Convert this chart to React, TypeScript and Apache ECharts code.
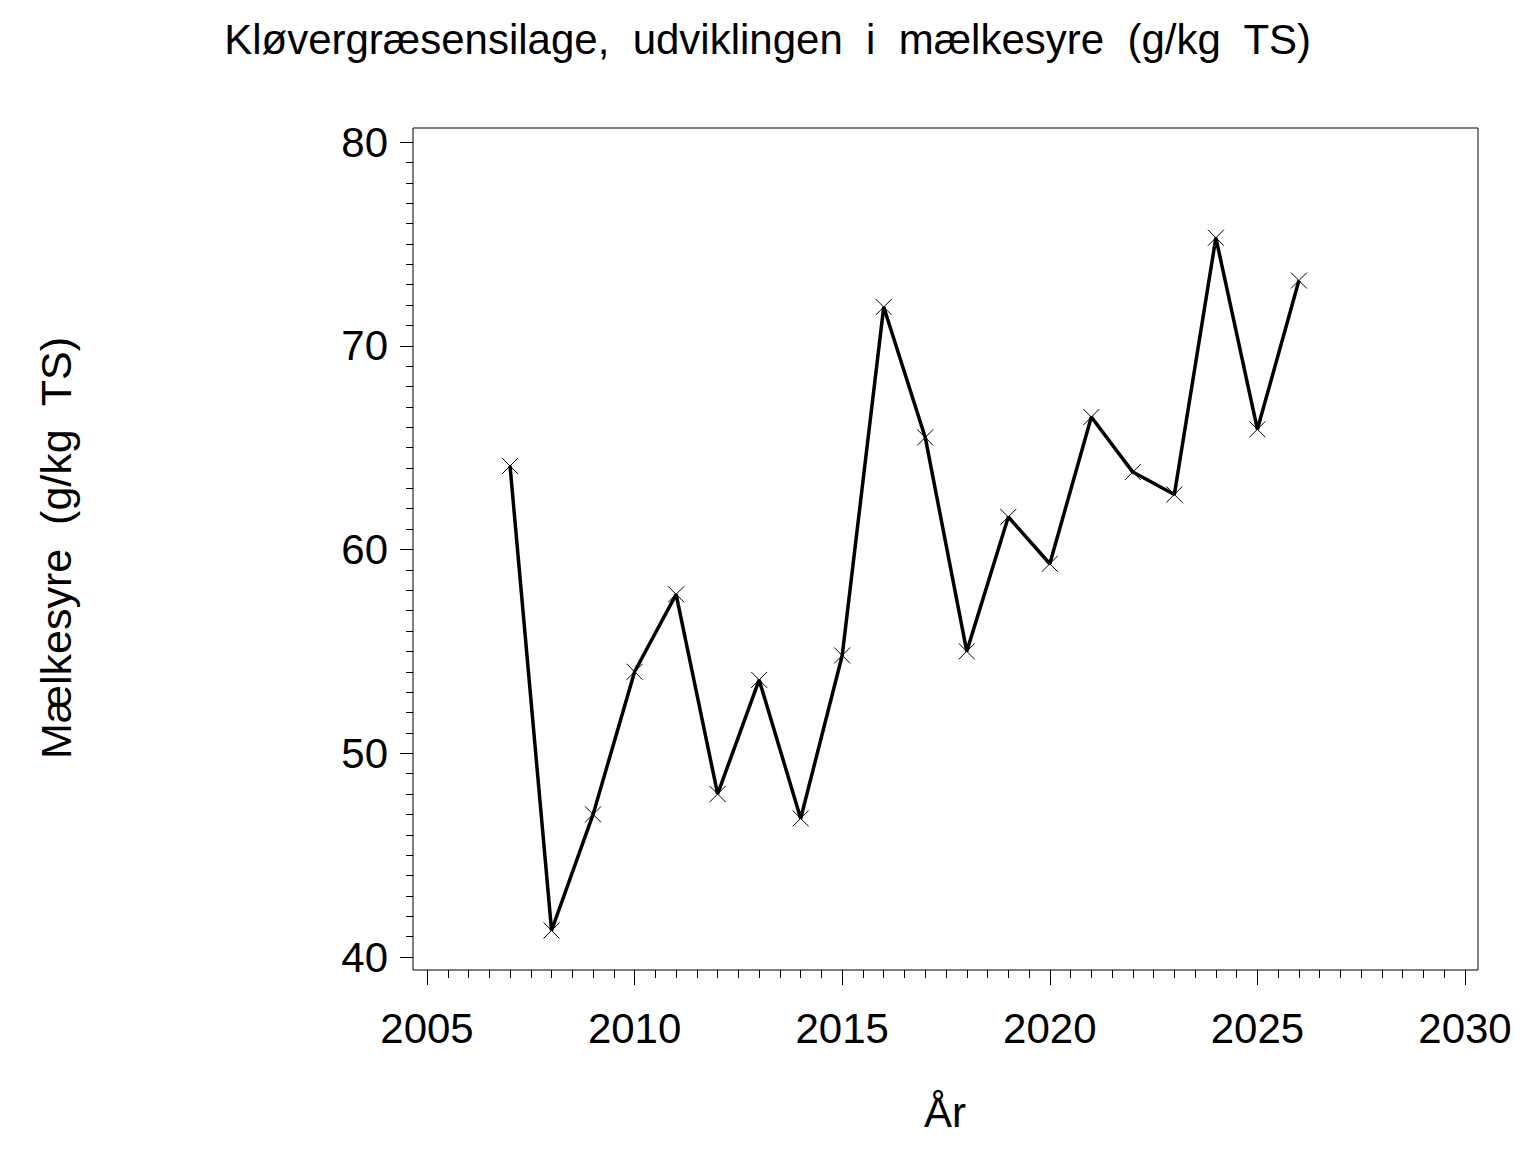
import React, { useEffect, useRef } from "react";
import * as echarts from "echarts";

const years = [2007, 2008, 2009, 2010, 2011, 2012, 2013, 2014, 2015, 2016, 2017, 2018, 2019, 2020, 2021, 2022, 2023, 2024, 2025, 2026];
const lacticAcid = [64.1, 41.3, 47.0, 54.0, 57.8, 48.0, 53.6, 46.8, 54.8, 71.9, 65.5, 55.0, 61.6, 59.3, 66.5, 63.8, 62.7, 75.3, 65.9, 73.2];
const titleText = "Kløvergræsensilage,  udviklingen  i  mælkesyre  (g/kg  TS)";
const yName = "Mælkesyre  (g/kg  TS)";
const xName = "År";

const FONT = "'Liberation Sans', Arial, sans-serif";

export default function App() {
  const ref = useRef<HTMLDivElement>(null);
  useEffect(() => {
    if (!ref.current) return;
    const chart = echarts.init(ref.current, undefined, { renderer: "svg" });
    chart.setOption({
      animation: false,
      backgroundColor: "#fff",
      textStyle: { fontFamily: FONT, color: "#000" },
      grid: [
        { left: 427, top: 142, width: 1038, height: 815, show: false },
        { left: 413, top: 128, width: 1065, height: 842, show: true, borderColor: "#000", borderWidth: 1, backgroundColor: "transparent" },
      ],
      xAxis: [
        {
          type: "value", gridIndex: 0, min: 2005, max: 2030, interval: 5, offset: 13,
          axisLine: { show: false },
          axisTick: { show: true, length: 15, lineStyle: { color: "#000", width: 1 } },
          minorTick: { show: true, splitNumber: 10, length: 8, lineStyle: { color: "#000", width: 1 } },
          splitLine: { show: false },
          axisLabel: { margin: 37, fontSize: 42, color: "#000", fontFamily: FONT, formatter: (v: number) => String(v) },
        },
        { type: "value", gridIndex: 1, min: 0, max: 1, show: false },
      ],
      yAxis: [
        {
          type: "value", gridIndex: 0, min: 40, max: 80, interval: 10, offset: 14,
          axisLine: { show: false },
          axisTick: { show: true, length: 13, lineStyle: { color: "#000", width: 1 } },
          minorTick: { show: true, splitNumber: 10, length: 7, lineStyle: { color: "#000", width: 1 } },
          splitLine: { show: false },
          axisLabel: { margin: 25, fontSize: 42, color: "#000", fontFamily: FONT },
        },
        { type: "value", gridIndex: 1, min: 0, max: 1, show: false },
      ],
      series: [
        {
          type: "line",
          xAxisIndex: 0,
          yAxisIndex: 0,
          data: years.map((y, i) => [y, lacticAcid[i]]),
          lineStyle: { color: "#000", width: 3.5 },
          symbol: "path://M0 0L10 10M10 0L0 10",
          symbolSize: 16,
          showSymbol: true,
          itemStyle: { color: "transparent", borderColor: "#000", borderWidth: 1 },
          clip: false,
        },
      ],
      graphic: [
        {
          type: "text", left: "center", top: 18,
          style: { text: titleText, font: `42px ${FONT}`, fill: "#000" },
        },
        {
          type: "text", x: 945, y: 1112,
          style: { text: xName, font: `42px ${FONT}`, fill: "#000", textAlign: "center", textVerticalAlign: "middle" },
        },
        {
          type: "text", x: 56, y: 548, rotation: Math.PI / 2,
          style: { text: yName, font: `43px ${FONT}`, fill: "#000", textAlign: "center", textVerticalAlign: "middle" },
        },
      ],
    });
    return () => chart.dispose();
  }, []);
  return <div ref={ref} style={{ position: "absolute", left: 0, top: 0, width: 1536, height: 1152 }} />;
}
